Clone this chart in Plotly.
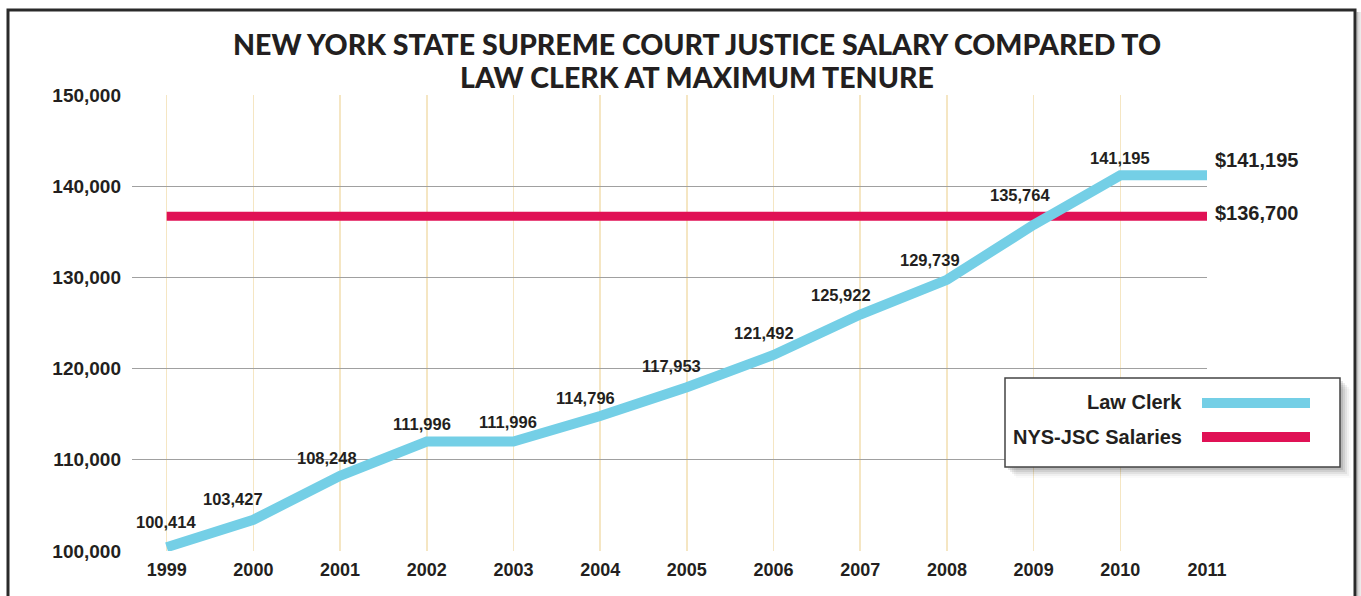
import plotly.graph_objects as go

years = [1999, 2000, 2001, 2002, 2003, 2004, 2005, 2006, 2007, 2008, 2009, 2010, 2011]
law_clerk = [100414, 103427, 108248, 111996, 111996, 114796, 117953, 121492, 125922, 129739, 135764, 141195, 141195]
nys_jsc = [136700] * 13
y_ticks = [100000, 110000, 120000, 130000, 140000, 150000]
title_lines = ["NEW YORK STATE SUPREME COURT JUSTICE SALARY COMPARED TO", "LAW CLERK AT MAXIMUM TENURE"]

# label pixel offsets (styling)
label_dx = [-1, -20, -13, -5, -5, -15, -15, -10, -19, -17, -14, 0]
label_dy = [25, 21, 18, 18, 20, 18, 21, 22, 20, 20, 30, 17]

W, H = 1361, 596
L, T = 132, 95
R, B = W - 1207, H - 551
PW, PH = W - L - R, H - T - B

def px(x):
    return (x - L) / PW

def py(y):
    return (H - B - y) / PH

BLUE = "#74cfe6"
RED = "#e01155"
NARROW = "Liberation Sans Narrow, Arial Narrow, Liberation Sans, Arial"
TXT = "#231f20"

fig = go.Figure()
fig.add_trace(go.Scatter(x=years, y=nys_jsc, mode="lines", name="NYS-JSC Salaries",
                         line=dict(color=RED, width=9), hoverinfo="skip"))
fig.add_trace(go.Scatter(x=years, y=law_clerk, mode="lines", name="Law Clerk",
                         line=dict(color=BLUE, width=10), hoverinfo="skip"))

ann = []
for i in range(12):
    ann.append(dict(x=years[i], y=law_clerk[i], xref="x", yref="y",
                    text=f"{law_clerk[i]:,}", showarrow=False,
                    xshift=label_dx[i], yshift=label_dy[i],
                    font=dict(family=NARROW, size=16.5, color=TXT, weight="bold")))
ann.append(dict(x=years[-1], y=law_clerk[-1], xref="x", yref="y", text=f"${law_clerk[-1]:,}",
                showarrow=False, xanchor="left", xshift=6, yshift=15,
                font=dict(family=NARROW, size=20, color=TXT, weight="bold")))
ann.append(dict(x=years[-1], y=nys_jsc[-1], xref="x", yref="y", text=f"${nys_jsc[-1]:,}",
                showarrow=False, xanchor="left", xshift=6, yshift=3,
                font=dict(family=NARROW, size=20, color=TXT, weight="bold")))
for line_text, ypix in zip(title_lines, [44, 77]):
    ann.append(dict(x=px(697), y=py(ypix), xref="paper", yref="paper", text=line_text,
                    showarrow=False, xanchor="center", yanchor="middle",
                    font=dict(family="Lato, Open Sans, sans-serif", size=28.5, color=TXT, weight=900)))
# custom legend text
ann.append(dict(x=px(1184), y=py(402), xref="paper", yref="paper", text="Law Clerk",
                showarrow=False, xanchor="right", yanchor="middle",
                font=dict(family=NARROW, size=20, color=TXT, weight="bold")))
ann.append(dict(x=px(1184), y=py(437), xref="paper", yref="paper", text="NYS-JSC Salaries",
                showarrow=False, xanchor="right", yanchor="middle",
                font=dict(family=NARROW, size=20, color=TXT, weight="bold")))

shapes = []
# outer frame shadow
for k, op in enumerate([0.25, 0.15, 0.08]):
    shapes.append(dict(type="rect", xref="paper", yref="paper",
                       x0=px(1356.5 + k * 1.5), x1=px(1358 + k * 1.5), y0=py(620), y1=py(12),
                       line=dict(width=0), fillcolor=f"rgba(0,0,0,{op})", layer="below"))
shapes.append(dict(type="rect", xref="paper", yref="paper",
                   x0=px(8), x1=px(1355), y0=py(640), y1=py(10),
                   line=dict(color="#2a2a2a", width=3), fillcolor="rgba(0,0,0,0)", layer="below"))
# legend shadow
for k, op in enumerate([0.10, 0.08, 0.06, 0.04, 0.02]):
    o = 3 + k * 2
    shapes.append(dict(type="rect", xref="paper", yref="paper",
                       x0=px(1005 + o), x1=px(1340 + o), y0=py(467 + o), y1=py(378 + o),
                       line=dict(width=0), fillcolor=f"rgba(0,0,0,{op})"))
shapes.append(dict(type="rect", xref="paper", yref="paper",
                   x0=px(1005), x1=px(1340), y0=py(467), y1=py(378),
                   line=dict(color="#444444", width=1.5), fillcolor="white"))
shapes.append(dict(type="line", xref="paper", yref="paper",
                   x0=px(1202), x1=px(1310), y0=py(403), y1=py(403),
                   line=dict(color=BLUE, width=10)))
shapes.append(dict(type="line", xref="paper", yref="paper",
                   x0=px(1202), x1=px(1310), y0=py(437), y1=py(437),
                   line=dict(color=RED, width=10)))

fig.update_layout(
    width=W, height=H,
    margin=dict(l=L, r=R, t=T, b=B, autoexpand=False),
    paper_bgcolor="white", plot_bgcolor="white",
    showlegend=False,
    annotations=ann, shapes=shapes,
    xaxis=dict(range=[1998.6, 2011], tickmode="array", tickvals=years,
               ticktext=[str(y) for y in years], showgrid=True, gridcolor="#f5e6c3",
               gridwidth=1.5, zeroline=False, showline=False, ticks="",
               ticklabelstandoff=6,
               tickfont=dict(family=NARROW, size=18, color=TXT, weight="bold")),
    yaxis=dict(range=[100000, 150000], tickmode="array", tickvals=y_ticks,
               ticktext=[f"{v:,}" for v in y_ticks], showgrid=True, gridcolor="#a0a0a0",
               gridwidth=1, zeroline=False, showline=False, ticks="",
               ticklabelstandoff=10,
               tickfont=dict(family=NARROW, size=19, color=TXT, weight="bold")),
)

fig.write_html("out.html",
               config={"displayModeBar": False, "staticPlot": True},
               post_script="document.body.style.margin='0';document.body.style.overflow='hidden';")
